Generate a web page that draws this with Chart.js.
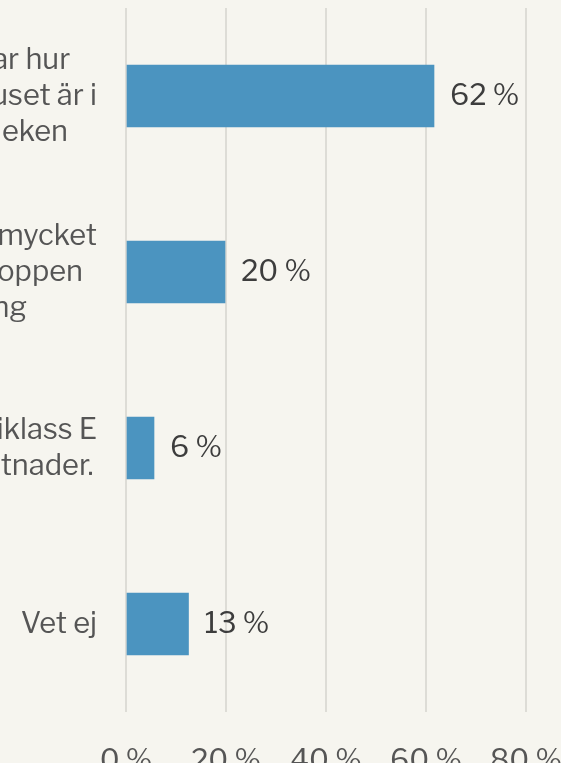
<!DOCTYPE html>
<html>
<head>
<meta charset="utf-8">
<script src="https://cdn.jsdelivr.net/npm/chart.js@4"></script>
<style>
  html, body { margin: 0; padding: 0; background: #f6f5ef; overflow: hidden; }
  body { width: 561px; height: 763px; position: relative; }
  #wrap { position: absolute; left: -300px; top: 0; width: 861px; height: 800px; }
</style>
</head>
<body>
<div id="wrap"><canvas id="chart"></canvas></div>
<script>
// answers (left part falls outside the picture)
const categories = [
  ["Energiklass visar hur", "energieffektivt huset är i", "relation till storleken"],
  ["Energiklassen anger hur mycket", "energin som används i toppen", "vid högre förbrukning"],
  ["Huset har låg energiklass E", "och höga energikostnader."],
  ["Vet ej"]
]
const values = [61.6, 19.8, 5.6, 12.5]
const valueLabels = ["62 %", "20 %", "6 %", "13 %"]
const xTicks = [0, 20, 40, 60, 80]

const FONT = "'Libre Franklin', Roboto, 'Liberation Sans', sans-serif"

const barValueLabels = {
  id: "barValueLabels",
  afterDatasetsDraw(chart) {
    const ctx = chart.ctx
    const meta = chart.getDatasetMeta(0)
    ctx.save()
    ctx.font = "29px " + FONT
    ctx.fillStyle = "#3d3d3d"
    ctx.textBaseline = "middle"
    ctx.textAlign = "left"
    meta.data.forEach((bar, i) => {
      ctx.fillText(valueLabels[i], bar.x + 16, bar.y)
    })
    ctx.restore()
  }
}

// category labels: each block sits against the axis, lines centred inside it
const categoryLabels = {
  id: "categoryLabels",
  afterDraw(chart) {
    const ctx = chart.ctx
    const y = chart.scales.y
    const lh = 36
    ctx.save()
    ctx.font = "29px " + FONT
    ctx.fillStyle = "#555555"
    ctx.textBaseline = "middle"
    ctx.textAlign = "center"
    categories.forEach((lines, i) => {
      const widest = Math.max(...lines.map(l => ctx.measureText(l).width))
      const cx = y.right - 29 - widest / 2
      const cy = y.getPixelForTick(i)
      lines.forEach((l, k) => {
        ctx.fillText(l, cx, cy - (lines.length - 1) * lh / 2 + k * lh)
      })
    })
    ctx.restore()
  }
}

const noPad = (scale) => {
  scale.paddingTop = 0
  scale.paddingBottom = 0
  scale.paddingLeft = 0
  scale.paddingRight = 0
}

new Chart("chart", {
  type: "bar",
  data: {
    labels: categories,
    datasets: [{
      data: values,
      backgroundColor: "#4b94c0",
      barThickness: 62,
    }]
  },
  options: {
    indexAxis: "y",
    responsive: true,
    maintainAspectRatio: false,
    animation: false,
    layout: { padding: { top: 8, right: 35, left: 0, bottom: 0 } },
    plugins: {
      legend: { display: false },
      tooltip: { enabled: false }
    },
    scales: {
      x: {
        min: 0,
        max: 80,
        afterBuildTicks: (scale) => { scale.ticks = xTicks.map(v => ({ value: v })) },
        afterFit: (scale) => { scale.height = 88; noPad(scale) },
        grid: { display: true, color: "#dddcd6", lineWidth: 2, drawTicks: false },
        border: { display: false },
        ticks: {
          padding: 32,
          color: "#555555",
          font: { size: 29, family: FONT },
          callback: (v) => v + " %"
        }
      },
      y: {
        afterFit: (scale) => { scale.width = 426; noPad(scale) },
        grid: { display: false },
        border: { display: false },
        ticks: { display: false }
      }
    }
  },
  plugins: [barValueLabels, categoryLabels]
})
</script>
</body>
</html>
